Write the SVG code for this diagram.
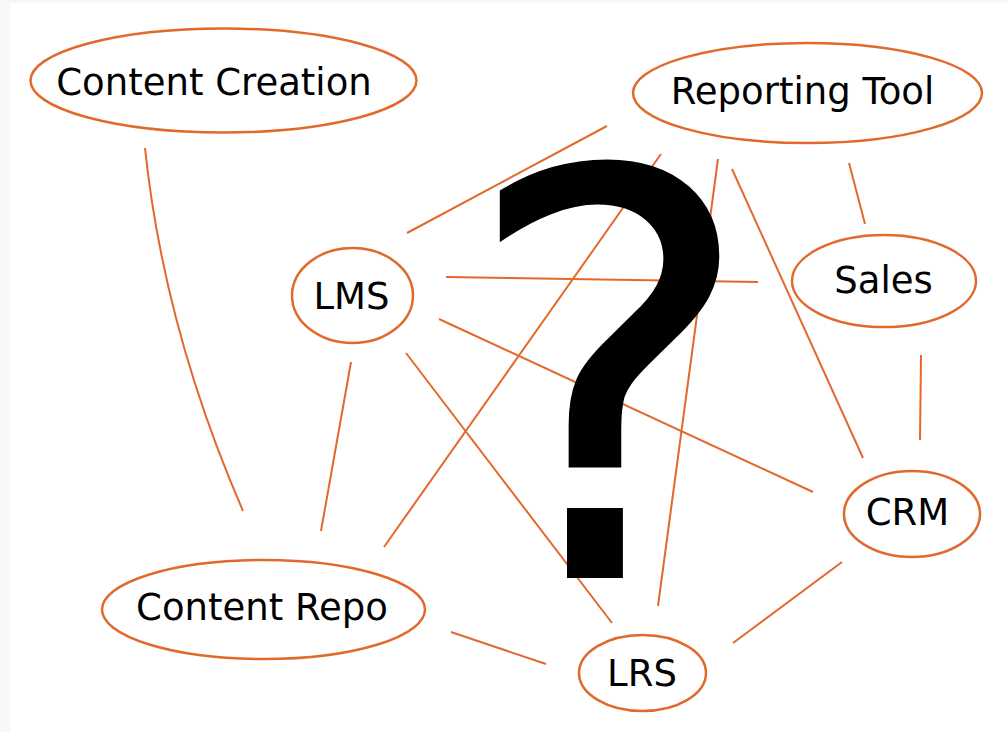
<svg xmlns="http://www.w3.org/2000/svg" width="1007" height="732" viewBox="0 0 1007 732">
<style>
.node ellipse{fill:#ffffff;stroke:#e2692c;stroke-width:2.5}
.node text{font-family:"DejaVu Sans",sans-serif;font-size:37px;fill:#000;text-anchor:middle}
#connectors line,#connectors path{stroke:#e2692c;stroke-width:2;fill:none}
</style>
<rect x="0" y="0" width="1007" height="732" fill="#f7f7f7"/>
<rect x="10" y="3" width="997" height="729" fill="#ffffff"/>
<g id="connectors">
<path d="M145,148 Q164,329 243,511"/>
<line x1="407" y1="233" x2="607" y2="126"/>
<line x1="446" y1="277" x2="758" y2="282"/>
<line x1="439" y1="319" x2="813" y2="492"/>
<line x1="406" y1="353" x2="612" y2="623"/>
<line x1="351" y1="362" x2="321" y2="531"/>
<line x1="384" y1="547" x2="661" y2="154"/>
<line x1="451" y1="632" x2="546" y2="664"/>
<line x1="658" y1="606" x2="718" y2="159"/>
<line x1="733" y1="643" x2="842" y2="562"/>
<line x1="732" y1="169" x2="863" y2="458"/>
<line x1="849" y1="163" x2="865" y2="224"/>
<line x1="921" y1="355" x2="920" y2="440"/>
</g>
<g id="question"><text x="609" y="578" font-family="DejaVu Sans, sans-serif" font-size="564" text-anchor="middle" fill="#000">?</text></g>
<g id="content-creation" class="node"><ellipse cx="223.5" cy="80.5" rx="193" ry="52"/><text x="214" y="95">Content Creation</text></g>
<g id="reporting-tool" class="node"><ellipse cx="807.5" cy="93" rx="174.5" ry="50"/><text x="802.5" y="104">Reporting Tool</text></g>
<g id="lms" class="node"><ellipse cx="352.5" cy="295.5" rx="60.5" ry="47.5"/><text x="351.5" y="309">LMS</text></g>
<g id="sales" class="node"><ellipse cx="884" cy="281" rx="92" ry="46"/><text x="883.5" y="293">Sales</text></g>
<g id="crm" class="node"><ellipse cx="912" cy="514" rx="68" ry="43"/><text x="907.5" y="525">CRM</text></g>
<g id="content-repo" class="node"><ellipse cx="263.5" cy="609.5" rx="161.5" ry="49.5"/><text x="262" y="620">Content Repo</text></g>
<g id="lrs" class="node"><ellipse cx="642.5" cy="673" rx="63.5" ry="38"/><text x="642" y="686">LRS</text></g>
</svg>
